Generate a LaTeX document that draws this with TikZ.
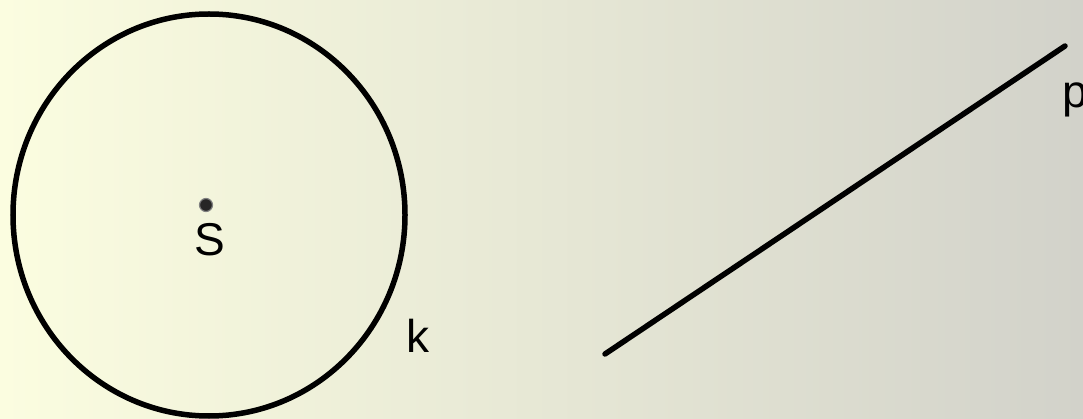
\documentclass[tikz,border=0pt]{standalone}
\usepackage{fontspec}
\setmainfont{Liberation Sans}
\begin{document}
\begin{tikzpicture}[x=1pt,y=-1pt,
  lbl/.style={inner sep=0pt,font=\fontsize{46}{50}\selectfont},
  thick line/.style={line width=5.5pt,line cap=round}]
\definecolor{bgleft}{HTML}{FBFDE0}
\definecolor{bgright}{HTML}{D2D2CA}
\definecolor{ptfill}{HTML}{262626}
\shade[left color=bgleft,right color=bgright] (0,0) rectangle (1083,419);
\useasboundingbox (0,0) rectangle (1083,419);
% circle k
\coordinate (c) at (209,215);
\draw[thick line] (c) ellipse [x radius=196, y radius=201];
% point S
\node (S) [circle,fill=ptfill,draw=gray,line width=1.2pt,minimum size=13pt,inner sep=0pt] at (206,205) {};
\node (Slbl) [lbl,anchor=base] at (210,256) {S};
\node (klbl) [lbl,anchor=base] at (418,352) {k};
% line p
\coordinate (p1) at (605,354);
\coordinate (p2) at (1065,46);
\draw[thick line] (p1) -- (p2);
\node (plbl) [lbl,anchor=base west] at (1062,108) {p};
\end{tikzpicture}
\end{document}
